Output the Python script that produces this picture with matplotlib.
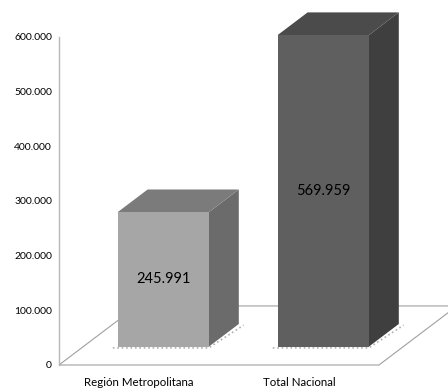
import matplotlib
matplotlib.use("Agg")
import matplotlib.pyplot as plt
from matplotlib.patches import Polygon
from matplotlib.ticker import FuncFormatter

categories = ["Región Metropolitana", "Total Nacional"]
values = [245991, 569959]
value_labels = ["245.991", "569.959"]
yticks = [0, 100000, 200000, 300000, 400000, 500000, 600000]

front_colors = ["#a6a6a6", "#5f5f5f"]
top_colors = ["#7b7b7b", "#4b4b4b"]
side_colors = ["#6b6b6b", "#3f3f3f"]

# oblique projection: depth z in [0, 1] shifts right and up
DX = 0.4875
DV = 108000
Z0, Z1 = 0.31, 0.695
HALF_W = 0.285


def proj(x, z, v):
    return (x + z * DX, v + z * DV)


plt.rcParams["font.family"] = ["Lato", "DejaVu Sans"]
fig = plt.figure(figsize=(4.48, 3.90), dpi=100)
ax = fig.add_axes([59 / 448, 25 / 390, 389 / 448, 328 / 390])
ax.set_xlim(0, 389 / 160)
ax.set_ylim(0, 600000)
for s in ax.spines.values():
    s.set_visible(False)

# floor outline
floor = [proj(0, 0, 0), proj(2, 0, 0), proj(2, 1, 0), proj(0, 1, 0)]
ax.add_patch(Polygon(floor, closed=True, facecolor="white", edgecolor="#a0a0a0",
                     lw=0.8, zorder=1, clip_on=False))
# vertical axis line
ax.plot([0, 0], [0, 600000], color="#b8b8b8", lw=1.0, zorder=2, clip_on=False)

for i, (val, lab) in enumerate(zip(values, value_labels)):
    c = i + 0.5
    x0, x1 = c - HALF_W, c + HALF_W
    front = [proj(x0, Z0, 0), proj(x1, Z0, 0), proj(x1, Z0, val), proj(x0, Z0, val)]
    side = [proj(x1, Z0, 0), proj(x1, Z1, 0), proj(x1, Z1, val), proj(x1, Z0, val)]
    top = [proj(x0, Z0, val), proj(x1, Z0, val), proj(x1, Z1, val), proj(x0, Z1, val)]
    # soft base shadow
    base = [proj(x0 - 0.02, Z0 - 0.02, 0), proj(x1 + 0.01, Z0 - 0.02, 0),
            proj(x1 + 0.04, Z1 - 0.02, 0)]
    ax.plot(*zip(*base), color="#b0b0b0", lw=1.2, ls=":", zorder=3, clip_on=False)
    ax.add_patch(Polygon(side, closed=True, facecolor=side_colors[i], edgecolor="none",
                         zorder=4, clip_on=False))
    ax.add_patch(Polygon(top, closed=True, facecolor=top_colors[i], edgecolor="none",
                         zorder=4, clip_on=False))
    ax.add_patch(Polygon(front, closed=True, facecolor=front_colors[i], edgecolor="none",
                         zorder=5, clip_on=False))
    tx, ty = proj(c, Z0, val / 2)
    ax.text(tx, ty, lab, ha="center", va="center", fontsize=10.5, color="black", zorder=6)

ax.set_yticks(yticks)
ax.yaxis.set_major_formatter(FuncFormatter(lambda v, p: f"{int(v):,}".replace(",", ".")))
ax.set_xticks([0.5, 1.5])
ax.set_xticklabels(categories, fontsize=8.3)
ax.tick_params(axis="y", length=0, labelsize=7.5, pad=5)
ax.tick_params(axis="x", length=0, pad=9)

fig.savefig("out.png", dpi=100, facecolor="white")
